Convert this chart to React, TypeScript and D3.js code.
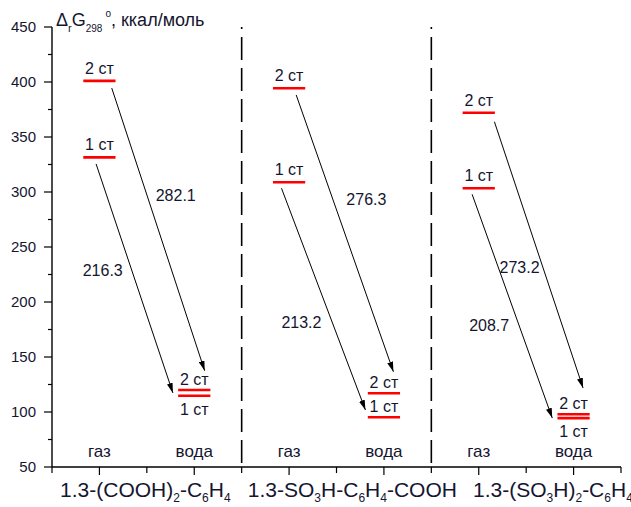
import React from "react";
import * as d3 from "d3";

// ---- data ----
const compoundLabels: [string, boolean][][] = [
  [["1.3-(COOH)", false], ["2", true], ["-C", false], ["6", true], ["H", false], ["4", true]],
  [["1.3-SO", false], ["3", true], ["H-C", false], ["6", true], ["H", false], ["4", true], ["-COOH", false]],
  [["1.3-(SO", false], ["3", true], ["H)", false], ["2", true], ["-C", false], ["6", true], ["H", false], ["4", true]],
];
const labelStartX = [0.17, 4.13, 8.88];
const phaseNames = ["газ", "вода"];
const gasPos = [1, 5, 9];
const waterPos = [3, 7, 11];
const separators = [4, 8];

const gasLevel2 = [401.0, 394.3, 372.1];
const gasLevel1 = [331.5, 308.8, 303.4];
const waterLevel2 = [120.0, 117.0, 98.0];
const waterLevel1 = [114.8, 95.2, 94.4];

const deltaG2 = [282.1, 276.3, 273.2];
const deltaG1 = [216.3, 213.2, 208.7];

// arrow endpoints [x0, v0, x1, v1] in axis units
const arrows2 = [
  [1.26, 394.5, 3.22, 137.5],
  [5.15, 388.2, 7.2, 136.6],
  [9.33, 363.9, 11.2, 121.8],
];
const arrows1 = [
  [0.93, 325.5, 2.55, 117.3],
  [4.84, 303.4, 6.61, 101.8],
  [8.86, 297.9, 10.55, 94.5],
];
// positions of ΔG labels [x, v]
const deltaPos2 = [
  [2.61, 297.3],
  [6.63, 293.6],
  [9.86, 231.8],
];
const deltaPos1 = [
  [1.07, 229.0],
  [5.26, 181.8],
  [9.22, 179.1],
];

const yTicks = [50, 100, 150, 200, 250, 300, 350, 400, 450];
const yMinorTicks = [75, 125, 175, 225, 275, 325, 375, 425];
const xTicks = d3.range(0, 13);

const W = 631;
const H = 507;
const FONT = "'Liberation Sans', Arial, sans-serif";
const TXT = "#151530";

export default function App() {
  const x = d3.scaleLinear().domain([0, 12]).range([52, 621]);
  const y = d3.scaleLinear().domain([50, 450]).range([467, 27]);
  const halfW = 0.34;

  const levelLine = (cx: number, v: number, key: string) => (
    <line key={key} x1={x(cx - halfW)} x2={x(cx + halfW)} y1={y(v)} y2={y(v)} stroke="#ff0000" strokeWidth={2.6} />
  );

  return (
    <svg
      width={W}
      height={H}
      style={{ position: "absolute", left: 0, top: 0, background: "#fff" }}
      fontFamily={FONT}
    >
      <defs>
        <marker id="arr" viewBox="0 0 10 6" refX={10} refY={3} markerWidth={10} markerHeight={6} markerUnits="userSpaceOnUse" orient="auto">
          <path d="M0,0 L10,3 L0,6 z" fill="#000" />
        </marker>
      </defs>

      {/* dashed separators */}
      {separators.map((s) => (
        <line
          key={"sep" + s}
          x1={x(s)}
          x2={x(s)}
          y1={y(50)}
          y2={y(450)}
          stroke="#000"
          strokeWidth={1.6}
          strokeDasharray="23 8"
          strokeDashoffset={27}
        />
      ))}

      {/* y axis */}
      <line x1={x(0)} x2={x(0)} y1={y(50)} y2={y(450)} stroke="#000" strokeWidth={1.4} />
      {yTicks.map((t) => (
        <g key={"yt" + t}>
          <line x1={x(0) - 8} x2={x(0)} y1={y(t)} y2={y(t)} stroke="#000" strokeWidth={1.2} />
          <text x={x(0) - 16} y={y(t)} dy="0.36em" textAnchor="end" fontSize={15} fill={TXT}>
            {t}
          </text>
        </g>
      ))}
      {yMinorTicks.map((t) => (
        <line key={"ym" + t} x1={x(0) - 4} x2={x(0)} y1={y(t)} y2={y(t)} stroke="#000" strokeWidth={1.2} />
      ))}

      {/* x axis */}
      <line x1={x(0)} x2={x(12)} y1={y(50)} y2={y(50)} stroke="#000" strokeWidth={1.4} />
      {xTicks.map((t) => (
        <line key={"xt" + t} x1={x(t)} x2={x(t)} y1={y(50)} y2={y(50) + (t % 2 === 1 ? 8 : 6)} stroke="#000" strokeWidth={1.2} />
      ))}

      {/* compound labels */}
      {compoundLabels.map((parts, i) => (
        <text key={"cl" + i} x={x(labelStartX[i])} y={497} fontSize={21} fill={TXT}>
          {parts.map(([s, sub], j) => {
            const prevSub = j > 0 && parts[j - 1][1];
            const dy = sub ? (prevSub ? 0 : 5) : prevSub ? -5 : 0;
            return (
              <tspan key={j} dy={dy} fontSize={sub ? 12 : 21}>
                {s}
              </tspan>
            );
          })}
        </text>
      ))}

      {/* phase labels */}
      {gasPos.map((p, i) => (
        <g key={"ph" + i}>
          <text x={x(p)} y={457} textAnchor="middle" fontSize={17} fill={TXT}>
            {phaseNames[0]}
          </text>
          <text x={x(waterPos[i])} y={457} textAnchor="middle" fontSize={17} fill={TXT}>
            {phaseNames[1]}
          </text>
        </g>
      ))}

      {/* levels */}
      {gasPos.map((p, i) => {
        const wp = waterPos[i];
        const close = Math.abs(waterLevel2[i] - waterLevel1[i]) < 10;
        return (
          <g key={"lv" + i}>
            {levelLine(p, gasLevel2[i], "g2")}
            {levelLine(p, gasLevel1[i], "g1")}
            {levelLine(wp, waterLevel2[i], "w2")}
            {levelLine(wp, waterLevel1[i], "w1")}
            <text x={x(p)} y={y(gasLevel2[i]) - 7} textAnchor="middle" fontSize={16} fill={TXT}>
              2 ст
            </text>
            <text x={x(p)} y={y(gasLevel1[i]) - 7} textAnchor="middle" fontSize={16} fill={TXT}>
              1 ст
            </text>
            <text x={x(wp)} y={y(waterLevel2[i]) - 5} textAnchor="middle" fontSize={16} fill={TXT}>
              2 ст
            </text>
            <text
              x={x(wp)}
              y={close ? y(waterLevel1[i]) + 19 : y(waterLevel1[i]) - 5}
              textAnchor="middle"
              fontSize={16}
              fill={TXT}
            >
              1 ст
            </text>
          </g>
        );
      })}

      {/* arrows */}
      {[...arrows2, ...arrows1].map((a, i) => (
        <line
          key={"ar" + i}
          x1={x(a[0])}
          y1={y(a[1])}
          x2={x(a[2])}
          y2={y(a[3])}
          stroke="#000"
          strokeWidth={1}
          markerEnd="url(#arr)"
        />
      ))}

      {/* ΔG values */}
      {deltaG2.map((d, i) => (
        <text key={"d2" + i} x={x(deltaPos2[i][0])} y={y(deltaPos2[i][1])} dy="0.36em" textAnchor="middle" fontSize={16} fill={TXT}>
          {d.toFixed(1)}
        </text>
      ))}
      {deltaG1.map((d, i) => (
        <text key={"d1" + i} x={x(deltaPos1[i][0])} y={y(deltaPos1[i][1])} dy="0.36em" textAnchor="middle" fontSize={16} fill={TXT}>
          {d.toFixed(1)}
        </text>
      ))}

      {/* y title */}
      <text x={56} y={26} fontSize={18} fill={TXT}>
        <tspan>Δ</tspan>
        <tspan fontSize={11} dy={6}>r</tspan>
        <tspan dy={-6}>G</tspan>
        <tspan fontSize={10} dy={6}>298</tspan>
        <tspan fontSize={10} dy={-15} dx={3}>o</tspan>
        <tspan dy={9}>, ккал/моль</tspan>
      </text>
    </svg>
  );
}
